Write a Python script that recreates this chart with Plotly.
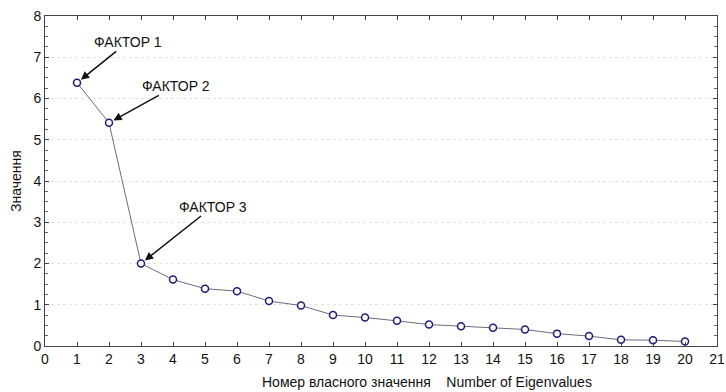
import plotly.graph_objects as go

eigen_numbers = list(range(1, 21))
eigenvalues = [6.38, 5.41, 2.00, 1.61, 1.39, 1.33, 1.09, 0.98, 0.75, 0.69,
               0.61, 0.52, 0.48, 0.44, 0.40, 0.30, 0.24, 0.15, 0.14, 0.11]
x_ticks = list(range(0, 22))
y_ticks = list(range(0, 9))
factor_labels = ["ФАКТОР 1", "ФАКТОР 2", "ФАКТОР 3"]
x_title = "Номер власного значення    Number of Eigenvalues"
y_title = "Значення"

FONT = "Liberation Sans, Arial, sans-serif"

fig = go.Figure()
fig.add_trace(go.Scatter(
    x=eigen_numbers, y=eigenvalues, mode="lines+markers",
    line=dict(color="#6b6b7a", width=1),
    marker=dict(symbol="circle", size=7, color="white",
                line=dict(color="#1c1c80", width=1.5)),
    showlegend=False, cliponaxis=False,
))

# annotation offsets (pixels from point to text center)
offsets = [(51, -41), (67, -37), (72, -57)]
for i, lab in enumerate(factor_labels):
    ax, ay = offsets[i]
    fig.add_annotation(
        x=eigen_numbers[i], y=eigenvalues[i], text=lab,
        showarrow=True, ax=ax, ay=ay, arrowhead=2, arrowsize=1.1,
        arrowwidth=1.5, arrowcolor="#111111", standoff=5,
        font=dict(family=FONT, size=14, color="#111111"),
    )

# x-axis title (offset to the right, as in the original)
fig.add_annotation(
    text=x_title.replace("    ", "&nbsp;&nbsp;&nbsp;&nbsp;"), xref="paper", yref="paper",
    x=0.568, y=-0.109, xanchor="center", yanchor="middle",
    showarrow=False, font=dict(family=FONT, size=14, color="#111111"),
)

fig.update_layout(
    width=726, height=392,
    margin=dict(l=45, r=9, t=16, b=46),
    paper_bgcolor="white", plot_bgcolor="white",
    font=dict(family=FONT, size=14, color="#111111"),
)
fig.update_xaxes(
    range=[0, 21], tickvals=x_ticks, ticktext=[str(v) for v in x_ticks],
    showgrid=False, zeroline=False, automargin=False,
    showline=True, linecolor="#444444", linewidth=1, mirror="ticks",
    ticks="inside", ticklen=4, tickcolor="#444444",
    tickfont=dict(size=14),
)
fig.update_yaxes(
    range=[0, 8], tickvals=y_ticks, ticktext=[str(v) for v in y_ticks],
    showgrid=True, gridcolor="#e2e2e2", griddash="dot", gridwidth=1,
    zeroline=False, automargin=False,
    showline=True, linecolor="#444444", linewidth=1, mirror="ticks",
    ticks="inside", ticklen=4, tickcolor="#444444",
    minor=dict(dtick=0.25, ticks="inside", ticklen=3, tickcolor="#666666", showgrid=False),
    tickfont=dict(size=14),
    title=dict(text=y_title, font=dict(size=14), standoff=8),
)

fig.write_html("out.html", config={"displayModeBar": False},
               post_script="document.body.style.margin='0';")
